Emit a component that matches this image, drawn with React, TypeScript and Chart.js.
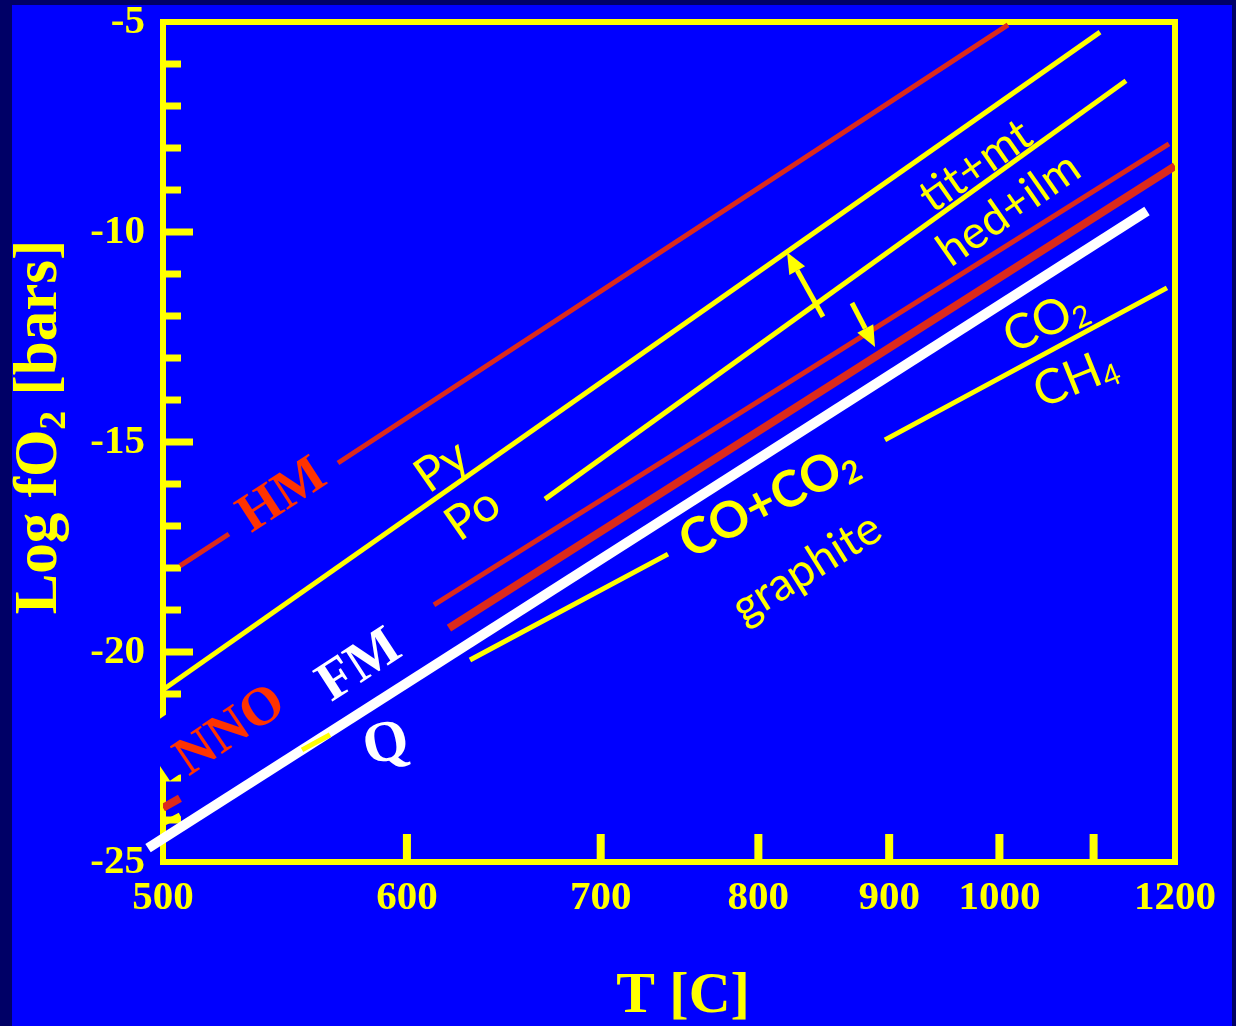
import React, { useEffect, useRef } from 'react';
import { Chart, registerables, LinearScale } from 'chart.js';

// ---------- data (temperature in °C, log fO2 in bars) ----------
const xTickValues = [500, 600, 700, 800, 900, 1000, 1100, 1200];
const xTickLabels = ['500', '600', '700', '800', '900', '1000', '', '1200'];
const yMin = -25;
const yMax = -5;

// null marks a break in a line
const hmT = [506.2, 524.7, null, 569.2, 1008.5];
const hmLogfO2 = [-17.95, -17.19, null, -15.5, -5.07];

const pyPoT = [500, 1107.4];
const pyPoLogfO2 = [-20.9, -5.24];

const titHedT = [669.0, 1138.1];
const titHedLogfO2 = [-16.36, -6.4];

const redThinT = [612.7, 1192.1];
const redThinLogfO2 = [-18.88, -7.9];

const nnoT = [500, 506.2, null, 619.9, 1200];
const nnoLogfO2 = [-23.71, -23.48, null, -19.43, -8.43];

const graphiteT = [500, 506.2, null, 554.0, 565.8, null, 630.2, 740.3, null, 896.5, 1189.5];
const graphiteLogfO2 = [-24.09, -23.88, null, -22.33, -21.97, null, -20.19, -17.67, null, -14.95, -11.33];

const fmqT = [494.6, 1164.0];
const fmqLogfO2 = [-24.67, -9.5];

// arrows: [T0, v0, T1, v1] (head at the second point)
const arrowsData = [
  [847.2, -12.02, 820.4, -10.48],
  [869.7, -11.69, 888.3, -12.74],
];

// ---------- styling ----------
const YELLOW = '#ffff00';
const BLUE = '#0000ff';
const NAVY = '#000066';
const RED_LINE = '#dc2a1c';
const RED_LABEL = '#ff3300';
const WHITE = '#ffffff';
const SERIF = '"Liberation Serif", "Times New Roman", serif';
const SANS = 'Lato, "DejaVu Sans", sans-serif';

type Part = { t: string; sub?: boolean };
type Label = {
  parts: Part[];
  T: number;
  v: number;
  angle: number;
  family: string;
  weight: string;
  size: number;
  color: string;
  mask?: [number, number, number, number];
};

const labels: Label[] = [
  { parts: [{ t: 'HM' }], T: 544.9, v: -16.19, angle: -33, family: SERIF, weight: 'bold', size: 54, color: RED_LABEL },
  { parts: [{ t: 'Py' }], T: 616.1, v: -15.55, angle: -35, family: SANS, weight: 'normal', size: 48, color: YELLOW },
  { parts: [{ t: 'Po' }], T: 631.2, v: -16.69, angle: -35, family: SANS, weight: 'normal', size: 48, color: YELLOW },
  { parts: [{ t: 'NNO' }], T: 524.3, v: -21.79, angle: -34, family: SERIF, weight: 'bold', size: 54, color: RED_LABEL, mask: [-78, -45, 156, 57] },
  { parts: [{ t: 'FM' }], T: 577.5, v: -20.24, angle: -33, family: SERIF, weight: 'bold', size: 56, color: WHITE },
  { parts: [{ t: 'Q' }], T: 590.0, v: -22.1, angle: -12, family: SERIF, weight: 'bold', size: 58, color: WHITE },
  { parts: [{ t: 'tit+mt' }], T: 976.4, v: -8.4, angle: -35, family: SANS, weight: 'normal', size: 46, color: YELLOW },
  { parts: [{ t: 'hed+ilm' }], T: 1008.5, v: -9.43, angle: -35, family: SANS, weight: 'normal', size: 46, color: YELLOW },
  { parts: [{ t: 'CO+CO' }, { t: '2', sub: true }], T: 806.8, v: -16.38, angle: -27, family: SANS, weight: 'bold', size: 50, color: YELLOW },
  { parts: [{ t: 'graphite' }], T: 834.4, v: -17.98, angle: -32, family: SANS, weight: 'normal', size: 46, color: YELLOW },
  { parts: [{ t: 'CO' }, { t: '2', sub: true }], T: 1046.5, v: -12.1, angle: -25, family: SANS, weight: 'normal', size: 48, color: YELLOW },
  { parts: [{ t: 'CH' }, { t: '4', sub: true }], T: 1079.1, v: -13.45, angle: -22, family: SANS, weight: 'normal', size: 48, color: YELLOW },
];

// ---------- 1/T temperature scale ----------
class InverseTemperatureScale extends LinearScale {
  static id = 'inverseT';
  static defaults = {};
  inv(v: number) {
    return 1 / (v + 273.15);
  }
  getPixelForValue(value: number) {
    const a = this.inv(this.min);
    const b = this.inv(this.max);
    return this.getPixelForDecimal((a - this.inv(value)) / (a - b));
  }
  getValueForPixel(pixel: number) {
    const a = this.inv(this.min);
    const b = this.inv(this.max);
    const d = this.getDecimalForPixel(pixel);
    return 1 / (a - d * (a - b)) - 273.15;
  }
}

Chart.register(...registerables, InverseTemperatureScale as any);

function toPoints(ts: (number | null)[], vs: (number | null)[]) {
  return ts.map((t, i) => ({
    x: t === null ? (ts[i - 1] as number) : t,
    y: vs[i],
  }));
}

function drawRich(ctx: CanvasRenderingContext2D, parts: Part[], size: number, family: string, weight: string, color: string) {
  let total = 0;
  const widths = parts.map((p) => {
    const s = p.sub ? size * 0.62 : size;
    ctx.font = `${weight} ${s}px ${family}`;
    const w = ctx.measureText(p.t).width;
    total += w;
    return w;
  });
  let cx = -total / 2;
  ctx.fillStyle = color;
  ctx.textAlign = 'left';
  ctx.textBaseline = 'alphabetic';
  const base = size * 0.35;
  parts.forEach((p, i) => {
    const s = p.sub ? size * 0.62 : size;
    ctx.font = `${weight} ${s}px ${family}`;
    ctx.fillText(p.t, cx, base + (p.sub ? size * 0.12 : 0));
    cx += widths[i];
  });
}

const backgroundPlugin = {
  id: 'bg',
  beforeDraw(chart: any) {
    const { ctx, width, height } = chart;
    ctx.save();
    ctx.fillStyle = NAVY;
    ctx.fillRect(0, 0, width, height);
    ctx.fillStyle = BLUE;
    ctx.fillRect(12, 5, width - 16, height - 5);
    ctx.restore();
  },
};

const framePlugin = {
  id: 'frame',
  beforeDatasetsDraw(chart: any) {
    const { ctx, chartArea } = chart;
    const xs = chart.scales.x;
    const ys = chart.scales.y;
    ctx.save();
    ctx.strokeStyle = YELLOW;
    ctx.fillStyle = YELLOW;
    ctx.lineWidth = 6;
    ctx.strokeRect(chartArea.left, chartArea.top, chartArea.right - chartArea.left, chartArea.bottom - chartArea.top);
    for (let v = yMin + 1; v < yMax; v++) {
      const y = ys.getPixelForValue(v);
      const len = v % 5 === 0 ? 30 : 18;
      ctx.fillRect(chartArea.left, y - 3.5, len, 7);
    }
    xTickValues.slice(1, -1).forEach((t) => {
      const x = xs.getPixelForValue(t);
      ctx.fillRect(x - 4, chartArea.bottom - 28, 8, 28);
    });
    ctx.restore();
  },
};

const annotationPlugin = {
  id: 'annotations',
  afterDatasetsDraw(chart: any) {
    const { ctx } = chart;
    const xs = chart.scales.x;
    const ys = chart.scales.y;
    ctx.save();
    labels.forEach((l) => {
      const px = xs.getPixelForValue(l.T);
      const py = ys.getPixelForValue(l.v);
      ctx.save();
      ctx.translate(px, py);
      ctx.rotate((l.angle * Math.PI) / 180);
      if (l.mask) {
        ctx.fillStyle = BLUE;
        ctx.fillRect(l.mask[0], l.mask[1], l.mask[2], l.mask[3]);
      }
      drawRich(ctx, l.parts, l.size, l.family, l.weight, l.color);
      ctx.restore();
    });

    ctx.strokeStyle = YELLOW;
    ctx.fillStyle = YELLOW;
    ctx.lineWidth = 5;
    arrowsData.forEach(([t0, v0, t1, v1]) => {
      const x0 = xs.getPixelForValue(t0);
      const y0 = ys.getPixelForValue(v0);
      const x1 = xs.getPixelForValue(t1);
      const y1 = ys.getPixelForValue(v1);
      const ang = Math.atan2(y1 - y0, x1 - x0);
      const L = 21;
      const W = 9;
      const bx = x1 - L * Math.cos(ang);
      const by = y1 - L * Math.sin(ang);
      ctx.beginPath();
      ctx.moveTo(x0, y0);
      ctx.lineTo(bx, by);
      ctx.stroke();
      ctx.beginPath();
      ctx.moveTo(x1, y1);
      ctx.lineTo(bx + W * Math.sin(ang), by - W * Math.cos(ang));
      ctx.lineTo(bx - W * Math.sin(ang), by + W * Math.cos(ang));
      ctx.closePath();
      ctx.fill();
    });

    // axis titles
    ctx.fillStyle = YELLOW;
    ctx.font = `bold 58px ${SERIF}`;
    ctx.textAlign = 'center';
    ctx.textBaseline = 'alphabetic';
    ctx.fillText('T [C]', 683, 1012);

    ctx.save();
    ctx.translate(56, 427);
    ctx.rotate(-Math.PI / 2);
    const size = 61;
    const parts: Part[] = [{ t: 'Log fO' }, { t: '2', sub: true }, { t: ' [bars]' }];
    let total = 0;
    const ws = parts.map((p) => {
      ctx.font = `bold ${p.sub ? size * 0.62 : size}px ${SERIF}`;
      const w = ctx.measureText(p.t).width;
      total += w;
      return w;
    });
    let cx = -total / 2;
    ctx.textAlign = 'left';
    parts.forEach((p, i) => {
      ctx.font = `bold ${p.sub ? size * 0.62 : size}px ${SERIF}`;
      ctx.fillText(p.t, cx, p.sub ? size * 0.15 : 0);
      cx += ws[i];
    });
    ctx.restore();
    ctx.restore();
  },
};

export default function App() {
  const canvasRef = useRef<HTMLCanvasElement | null>(null);

  useEffect(() => {
    document.body.style.margin = '0';
    document.body.style.background = NAVY;
    const canvas = canvasRef.current;
    if (!canvas) return;
    const tickFont = { family: SERIF, size: 41, weight: 'bold' as const };
    const chart = new Chart(canvas, {
      type: 'line',
      data: {
        datasets: [
          { label: 'HM', data: toPoints(hmT, hmLogfO2), borderColor: RED_LINE, borderWidth: 5 },
          { label: 'Py/Po', data: toPoints(pyPoT, pyPoLogfO2), borderColor: YELLOW, borderWidth: 5 },
          { label: 'tit+mt / hed+ilm', data: toPoints(titHedT, titHedLogfO2), borderColor: YELLOW, borderWidth: 5 },
          { label: 'red thin', data: toPoints(redThinT, redThinLogfO2), borderColor: RED_LINE, borderWidth: 5 },
          { label: 'NNO', data: toPoints(nnoT, nnoLogfO2), borderColor: RED_LINE, borderWidth: 8 },
          { label: 'CO+CO2 / graphite', data: toPoints(graphiteT, graphiteLogfO2), borderColor: YELLOW, borderWidth: 5 },
          { label: 'FMQ', data: toPoints(fmqT, fmqLogfO2), borderColor: WHITE, borderWidth: 10, clip: false as any },
        ] as any,
      },
      options: {
        animation: false,
        responsive: false,
        devicePixelRatio: 1,
        spanGaps: false,
        layout: { padding: { left: 0, top: 22, right: 61, bottom: 0 } },
        plugins: { legend: { display: false }, tooltip: { enabled: false } },
        elements: {
          point: { radius: 0 },
          line: { tension: 0, borderCapStyle: 'butt', fill: false },
        },
        scales: {
          x: {
            type: 'inverseT' as any,
            min: 500,
            max: 1200,
            grid: { display: false, drawTicks: false },
            border: { display: false },
            afterBuildTicks: (s: any) => {
              s.ticks = xTickValues.map((v) => ({ value: v }));
            },
            afterFit: (s: any) => {
              s.height = 164;
              s.paddingLeft = 0;
              s.paddingRight = 0;
            },
            ticks: {
              autoSkip: false,
              maxRotation: 0,
              minRotation: 0,
              color: YELLOW,
              font: tickFont,
              padding: 12,
              callback: (_v: any, i: number) => xTickLabels[i],
            },
          } as any,
          y: {
            type: 'linear',
            min: yMin,
            max: yMax,
            grid: { display: false, drawTicks: false },
            border: { display: false },
            afterFit: (s: any) => {
              s.width = 163;
              s.paddingTop = 0;
              s.paddingBottom = 0;
            },
            ticks: {
              stepSize: 1,
              autoSkip: false,
              color: YELLOW,
              font: tickFont,
              padding: 18,
              callback: (v: any) => (Number(v) % 5 === 0 ? String(v) : ''),
            },
          },
        },
      },
      plugins: [backgroundPlugin, framePlugin, annotationPlugin],
    });
    return () => chart.destroy();
  }, []);

  return <canvas ref={canvasRef} width={1236} height={1026} style={{ display: 'block' }} />;
}
